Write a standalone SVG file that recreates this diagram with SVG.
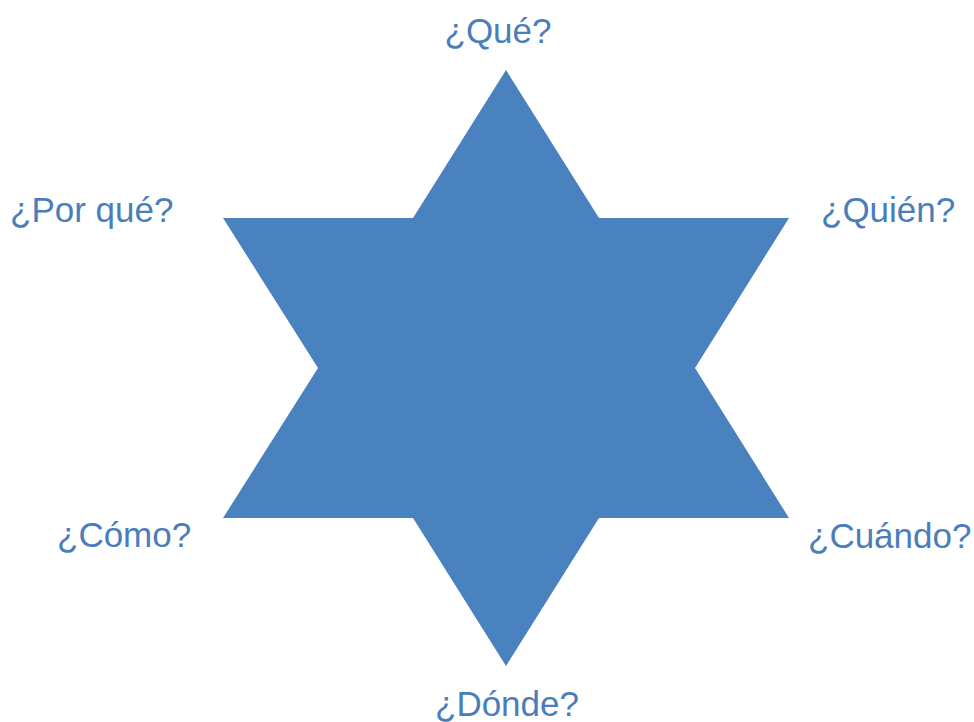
<svg xmlns="http://www.w3.org/2000/svg" width="974" height="722" viewBox="0 0 974 722">
<style>
.lbl{font-family:"Liberation Sans",Arial,sans-serif;font-size:35px;fill:#4A7EBB}
.star{fill:#4A81BF}
</style>
<rect width="974" height="722" fill="#ffffff"/>
<g id="star">
<polygon class="star" points="506,70 599,218 789,218 695,368 789,518 599,518 506,666 413,518 223,518 318,368 223,218 413,218"/>
</g>
<g id="labels">
<g id="que"><text class="lbl" x="498" y="43" text-anchor="middle">¿Qué?</text></g>
<g id="porque"><text class="lbl" x="10" y="222">¿Por qué?</text></g>
<g id="quien"><text class="lbl" x="821" y="222">¿Quién?</text></g>
<g id="como"><text class="lbl" x="57" y="547">¿Cómo?</text></g>
<g id="cuando"><text class="lbl" x="808" y="548">¿Cuándo?</text></g>
<g id="donde"><text class="lbl" x="507" y="716" text-anchor="middle">¿Dónde?</text></g>
</g>
</svg>
